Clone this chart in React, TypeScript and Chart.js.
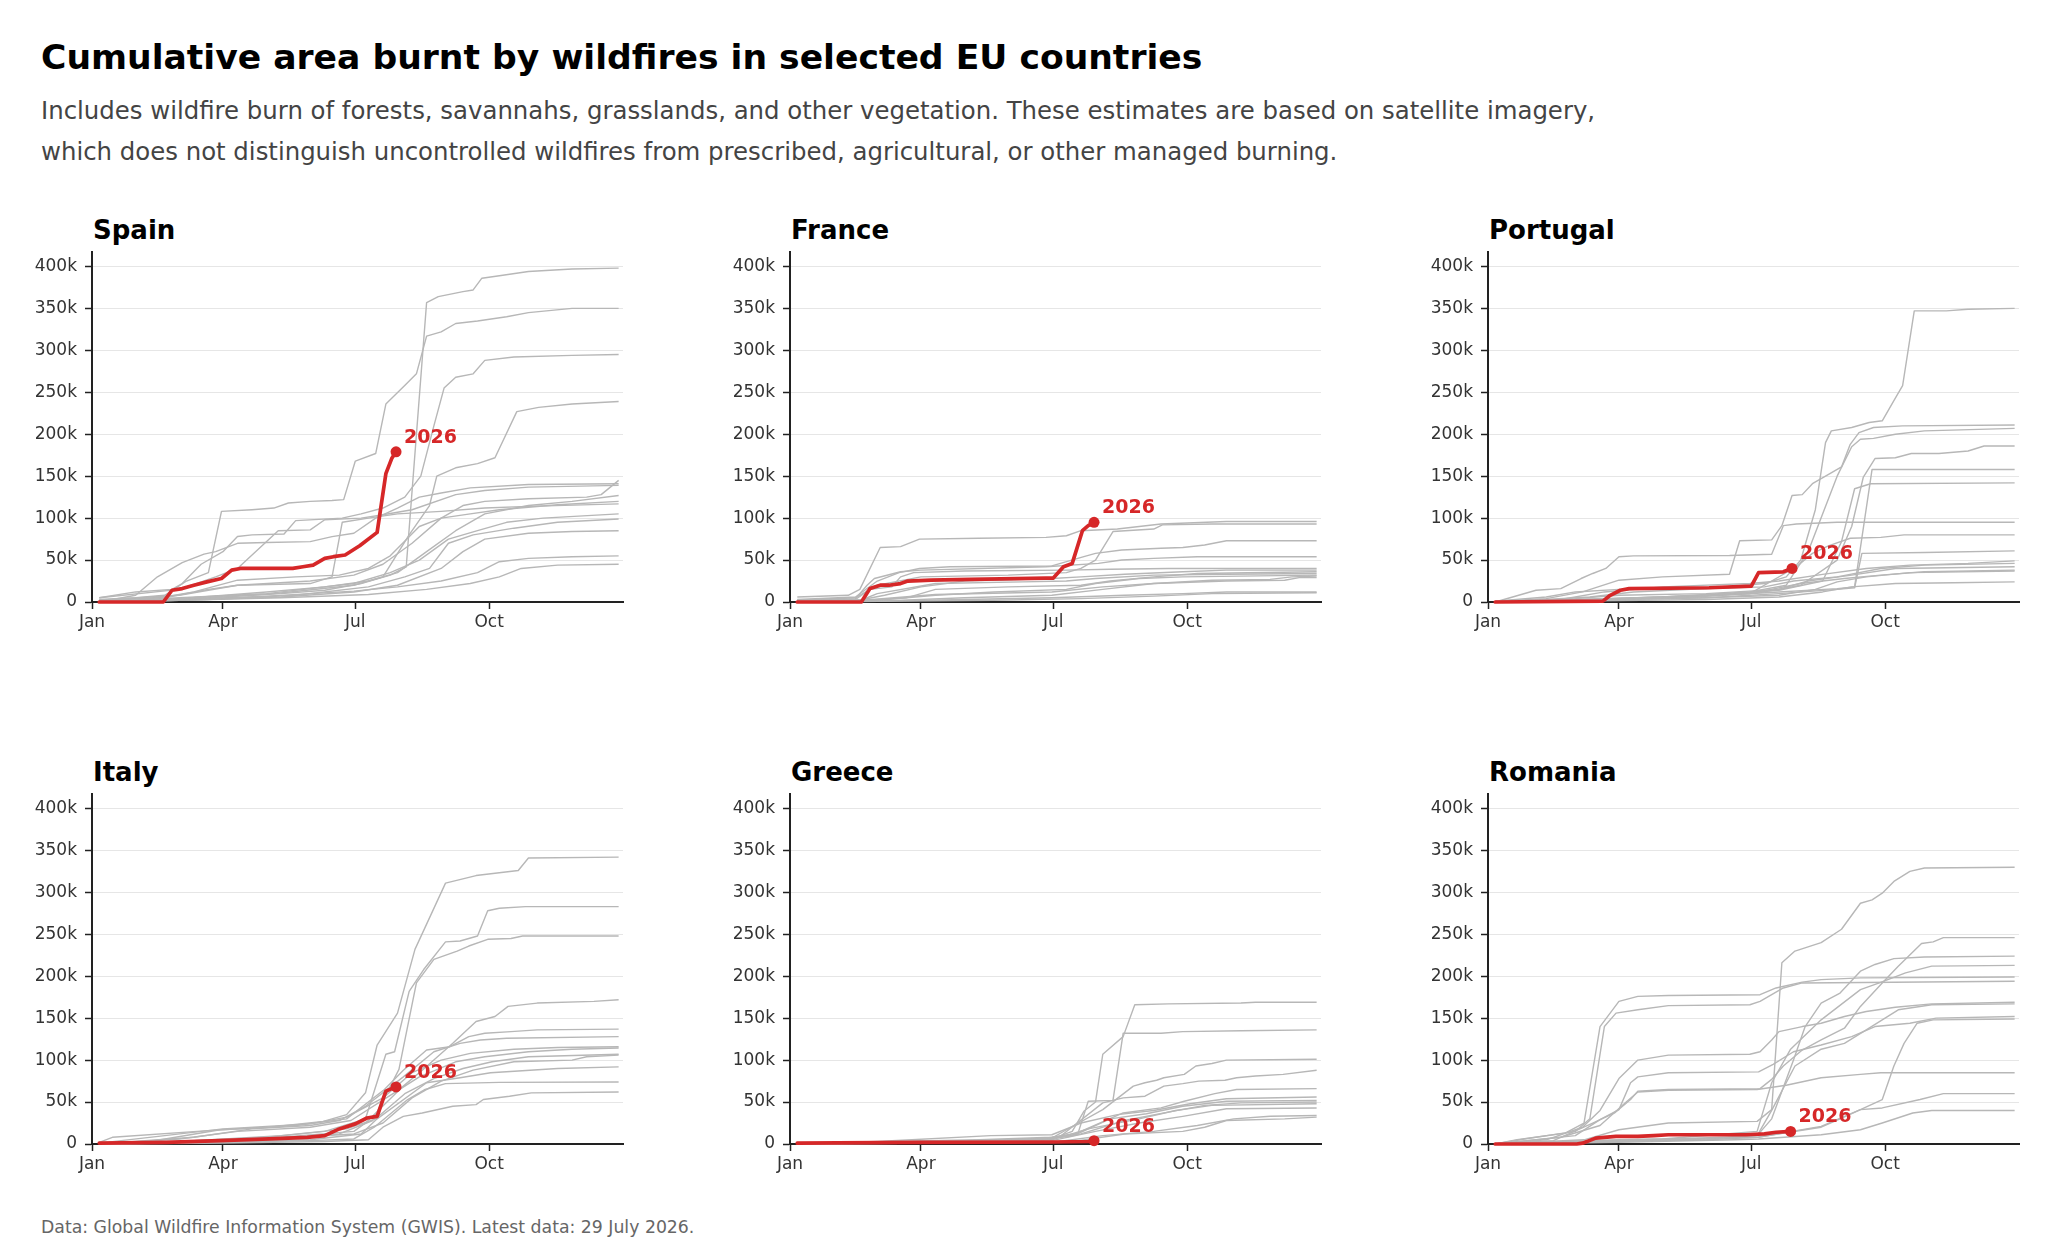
import React, { useEffect, useRef } from "react";
import { Chart, registerables } from "chart.js";

Chart.register(...registerables);

type Series = [number, number][];

// ---------- text ----------
const titleText = "Cumulative area burnt by wildfires in selected EU countries";
const subtitleLines = [
  "Includes wildfire burn of forests, savannahs, grasslands, and other vegetation. These estimates are based on satellite imagery,",
  "which does not distinguish uncontrolled wildfires from prescribed, agricultural, or other managed burning.",
];
const footerText = "Data: Global Wildfire Information System (GWIS). Latest data: 29 July 2026.";
const currentYearLabel = "2026";

// ---------- axes ----------
const monthDays = [0, 90, 181, 273];
const monthLabels = ["Jan", "Apr", "Jul", "Oct"];
const yTickValues = [0, 50, 100, 150, 200, 250, 300, 350, 400]; // thousand hectares

// ---------- data: [day of year, thousand ha] ----------
const spainPast: Series[] = [
  [[5,0],[40,2],[70,5],[100,8],[130,10],[160,14],[185,22],[205,32],[216,42],[230,357],[238,364],[255,370],[262,372],[268,386],[280,389],[300,394],[330,397],[362,398]],
  [[5,3],[30,5],[50,8],[65,25],[80,35],[89,108],[110,110],[125,112],[135,118],[150,120],[165,121],[173,122],[181,168],[195,177],[202,236],[216,260],[223,272],[230,317],[240,322],[250,332],[265,335],[285,340],[300,345],[330,350],[362,350]],
  [[5,5],[30,12],[55,15],[62,22],[75,45],[90,60],[100,78],[110,80],[132,81],[140,97],[172,100],[185,105],[200,112],[215,125],[226,150],[235,210],[242,255],[250,268],[262,272],[270,288],[290,292],[330,294],[362,295]],
  [[5,0],[60,3],[120,9],[180,20],[200,30],[218,80],[232,115],[237,150],[250,160],[265,165],[277,172],[292,227],[307,232],[330,236],[362,239]],
  [[5,2],[50,5],[80,15],[100,20],[150,25],[180,32],[200,45],[220,70],[240,100],[255,115],[270,120],[300,123],[340,125],[350,128],[362,145]],
  [[5,0],[30,8],[45,30],[62,47],[77,57],[85,60],[100,70],[120,71],[150,72],[165,78],[180,82],[195,100],[210,112],[225,125],[240,130],[260,136],[300,140],[362,141]],
  [[5,5],[60,15],[85,30],[100,40],[128,85],[150,86],[160,98],[185,100],[200,104],[220,110],[250,128],[270,133],[300,137],[362,139]],
  [[5,0],[60,4],[120,12],[160,18],[190,25],[210,35],[230,60],[250,85],[270,105],[300,115],[330,120],[362,127]],
  [[5,2],[60,8],[100,20],[150,22],[165,30],[172,95],[190,100],[210,105],[240,108],[270,112],[300,114],[362,117]],
  [[5,0],[60,5],[120,10],[180,22],[205,35],[225,50],[245,75],[265,85],[285,95],[310,100],[362,105]],
  [[5,0],[80,3],[140,8],[190,18],[215,30],[232,40],[245,70],[262,80],[290,88],[320,95],[362,99]],
  [[5,0],[60,2],[130,6],[180,12],[210,20],[240,40],[255,60],[270,75],[300,82],[330,84],[362,85]],
  [[5,0],[60,3],[120,7],[180,13],[210,18],[240,25],[265,35],[280,48],[300,52],[330,54],[362,55]],
  [[5,0],[60,2],[130,5],[190,9],[230,15],[260,22],[280,30],[295,40],[320,44],[362,45]],
  [[5,1],[50,6],[70,12],[100,26],[140,30],[170,32],[190,40],[205,55],[225,90],[240,100],[260,105],[280,110],[320,116],[362,120]],
];
const spain2026: Series = [[5,0],[49,0],[55,14],[62,16],[70,20],[79,24],[89,28],[96,38],[102,40],[138,40],[145,42],[152,44],[160,52],[166,54],[174,56],[184,67],[196,83],[202,153],[206,171],[209,179]];

const francePast: Series[] = [
  [[5,6],[40,8],[48,15],[62,65],[76,66],[89,75],[130,76],[176,77],[190,79],[200,85],[225,87],[255,93],[300,96],[362,96]],
  [[5,2],[45,5],[60,20],[90,30],[150,32],[190,35],[200,40],[210,50],[222,84],[250,87],[256,92],[290,93],[362,93]],
  [[5,3],[45,6],[60,25],[75,35],[89,40],[110,42],[180,43],[202,54],[210,58],[228,62],[255,64],[270,65],[285,68],[300,73],[362,73]],
  [[5,1],[45,4],[53,20],[58,28],[76,36],[90,38],[176,42],[212,46],[228,50],[250,52],[280,54],[362,54]],
  [[5,2],[45,3],[55,15],[70,18],[76,30],[85,35],[120,37],[190,38],[220,39],[260,40],[362,40]],
  [[5,0],[50,3],[65,8],[90,18],[120,25],[180,28],[200,30],[230,33],[270,36],[300,38],[362,38]],
  [[5,0],[55,2],[80,5],[100,15],[150,18],[200,20],[220,25],[250,30],[280,34],[362,36]],
  [[5,1],[50,3],[60,10],[100,22],[160,24],[190,25],[210,28],[250,32],[300,33],[362,34]],
  [[5,0],[60,2],[100,8],[140,12],[190,15],[210,22],[240,28],[270,30],[362,32]],
  [[5,0],[60,1],[120,5],[180,8],[215,15],[250,22],[290,26],[330,27],[345,30],[362,31]],
  [[5,1],[50,2],[100,9],[180,12],[215,18],[250,22],[300,25],[340,26],[350,29],[362,29]],
  [[5,0],[60,1],[120,3],[180,5],[230,8],[270,10],[300,12],[362,12]],
  [[5,0],[80,1],[140,2],[200,4],[250,7],[290,10],[362,11]],
];
const france2026: Series = [[5,0],[49,0],[55,16],[62,20],[68,20],[76,22],[81,25],[97,26],[124,27],[176,28.5],[181,28.5],[188,42],[194,46],[201,85],[205,91],[209,95]];

const portugalPast: Series[] = [
  [[5,0],[40,3],[70,6],[100,12],[150,16],[190,22],[205,30],[215,50],[225,110],[232,190],[236,204],[250,208],[262,214],[271,216],[279,240],[285,258],[293,347],[315,347],[330,349],[362,350]],
  [[5,1],[40,4],[65,12],[90,26],[120,30],[166,33],[173,73],[195,74],[202,91],[209,127],[216,128],[223,141],[235,153],[243,161],[249,188],[255,202],[265,208],[285,210],[362,211]],
  [[5,0],[60,3],[120,6],[180,12],[205,20],[220,60],[240,150],[250,185],[256,194],[265,195],[280,200],[300,204],[362,207]],
  [[5,0],[60,2],[130,5],[190,12],[215,20],[240,50],[250,90],[258,149],[266,171],[280,172],[291,177],[310,177],[330,180],[341,186],[362,186]],
  [[5,0],[60,2],[140,6],[200,12],[240,16],[252,18],[264,158],[362,158]],
  [[5,0],[70,3],[150,8],[200,14],[230,25],[243,72],[252,135],[263,141],[362,142]],
  [[5,0],[33,14],[50,16],[64,28],[72,34],[81,40],[90,54],[100,55],[166,55.5],[195,57],[203,91],[212,93],[240,95],[362,95]],
  [[5,0],[60,2],[120,5],[180,10],[212,42],[223,58],[234,67],[249,76],[270,77],[286,80],[362,80]],
  [[5,0],[60,2],[150,5],[200,10],[240,15],[252,17],[257,58],[300,59],[362,61]],
  [[5,0],[50,3],[80,12],[120,18],[180,22],[200,25],[230,33],[260,40],[290,44],[330,46],[362,49]],
  [[5,1],[40,6],[60,12],[90,15],[150,16],[190,18],[210,25],[240,30],[270,40],[300,44],[362,46]],
  [[5,0],[60,4],[90,8],[150,10],[200,15],[220,25],[250,32],[280,40],[362,42]],
  [[5,0],[70,3],[120,6],[180,10],[215,22],[245,28],[270,32],[300,36],[362,38]],
  [[5,0],[60,2],[150,5],[200,8],[225,15],[240,24],[260,30],[290,35],[362,37]],
  [[5,0],[60,1],[150,3],[200,6],[230,12],[250,18],[280,22],[320,23],[362,24]],
];
const portugal2026: Series = [[5,0],[79,1],[84,8],[91,14],[97,16],[152,17],[181,19],[186,35],[203,36],[209,40]];

const italyPast: Series[] = [
  [[5,0],[40,3],[88,17],[122,20],[159,27],[175,35],[188,61],[196,118],[210,156],[222,232],[243,311],[264,320],[293,326],[300,341],[362,342]],
  [[5,0],[60,3],[120,8],[160,15],[188,30],[202,107],[208,110],[218,182],[228,208],[243,241],[253,242],[265,248],[272,278],[280,281],[298,283],[362,283]],
  [[5,0],[60,2],[120,6],[170,12],[193,28],[211,89],[223,192],[235,220],[251,230],[259,236],[272,244],[288,245],[296,248],[362,248]],
  [[5,0],[70,3],[130,8],[180,15],[188,25],[214,69],[227,88],[248,120],[264,146],[277,152],[286,164],[306,168],[345,170],[362,172]],
  [[5,2],[14,8],[80,16],[140,22],[175,30],[201,65],[214,88],[230,112],[246,116],[259,128],[270,132],[288,134],[306,136],[362,137]],
  [[5,0],[70,8],[110,18],[150,22],[170,28],[188,45],[214,80],[235,110],[253,120],[267,124],[285,126],[362,128]],
  [[5,1],[50,10],[90,18],[150,24],[175,32],[200,55],[220,85],[240,100],[260,108],[290,113],[320,115],[362,116]],
  [[5,0],[60,6],[100,15],[150,20],[178,28],[205,58],[225,80],[250,98],[270,104],[300,110],[330,113],[362,114.5]],
  [[5,0],[70,4],[130,10],[175,18],[195,30],[215,60],[235,78],[255,90],[275,98],[300,104],[362,107]],
  [[5,0],[80,3],[140,8],[180,12],[200,25],[220,55],[240,75],[262,88],[290,98],[330,100],[340,104],[362,106]],
  [[5,0],[80,2],[150,5],[185,12],[196,30],[230,73],[253,79],[274,85],[293,87],[320,90],[362,92]],
  [[5,0],[90,2],[150,4],[180,6],[194,20],[217,53],[229,65],[243,72],[280,73.5],[362,74]],
  [[5,0],[90,1],[160,3],[190,5],[200,20],[214,33],[227,37],[248,45],[264,47],[269,53],[287,57],[302,61],[362,62]],
];
const italy2026: Series = [[5,1],[51,2],[88,4],[122,6],[148,8],[160,10],[170,18],[181,24],[189,31],[196,33],[202,63],[206,66],[209,68]];

const greecePast: Series[] = [
  [[5,0],[60,2],[120,4],[180,6],[194,15],[202,39],[210,50],[215,107],[229,128],[237,166],[260,167],[310,168],[320,169],[362,169]],
  [[5,0],[70,3],[130,5],[180,8],[198,13],[205,51],[222,52],[229,132],[255,132],[270,134],[310,135],[362,136]],
  [[5,0],[60,2],[130,4],[180,7],[190,17],[215,41],[236,69],[244,73],[252,76],[257,79],[271,83],[279,93],[290,96],[300,100],[362,101]],
  [[5,0],[80,2],[150,4],[185,8],[215,49],[229,55],[244,57],[257,69],[270,72],[281,75],[299,76],[307,79],[320,81],[339,83],[362,88]],
  [[5,0],[80,2],[150,4],[192,9],[229,37],[255,43],[271,51],[292,60],[307,65],[362,66]],
  [[5,0],[60,3],[138,10],[180,11],[200,25],[225,35],[250,40],[275,48],[300,54],[362,56]],
  [[5,0],[90,3],[160,5],[195,10],[220,30],[245,36],[270,45],[300,51],[362,52]],
  [[5,0],[90,2],[170,4],[200,12],[230,28],[260,38],[285,46],[310,49],[362,50]],
  [[5,0],[100,2],[180,5],[205,18],[240,30],[265,40],[290,46],[362,48]],
  [[5,0],[100,2],[180,4],[210,15],[240,25],[270,33],[300,42],[362,43]],
  [[5,0],[100,1],[185,3],[215,10],[250,15],[280,22],[305,30],[330,33],[362,34]],
  [[5,0],[100,1],[190,2],[230,12],[270,15],[285,20],[300,28],[340,30],[362,32]],
];
const greece2026: Series = [[5,1],[89,2],[181,2.4],[205,3],[209,4]];

const romaniaPast: Series[] = [
  [[5,0],[66,5],[90,17],[124,25],[185,27],[195,41],[202,216],[211,230],[229,240],[243,256],[256,287],[264,291],[271,299],[279,313],[290,325],[300,329],[362,330]],
  [[5,0],[45,4],[72,25],[87,37],[98,53],[103,63],[124,65],[187,66],[195,77],[203,93],[216,112],[229,124],[245,138],[256,164],[271,192],[282,212],[298,239],[306,241],[313,246],[362,246]],
  [[5,0],[60,2],[120,5],[185,10],[195,30],[210,100],[218,140],[229,168],[242,180],[256,206],[266,214],[279,221],[300,223],[362,224]],
  [[5,0],[60,3],[120,6],[185,15],[195,73],[208,113],[229,148],[256,184],[269,192],[287,204],[305,212],[362,213]],
  [[5,0],[20,5],[53,13],[66,25],[77,140],[90,170],[103,176],[124,177],[187,178],[198,186],[216,193],[229,196],[256,198],[362,199]],
  [[5,0],[25,6],[60,15],[70,30],[80,140],[88,156],[103,160],[124,165],[180,166],[187,170],[195,178],[203,186],[216,192],[362,194]],
  [[5,0],[40,5],[65,20],[77,40],[90,78],[103,100],[124,106],[180,107],[187,110],[195,124],[200,134],[216,140],[229,144],[245,152],[260,158],[280,163],[305,167],[362,169]],
  [[5,0],[80,3],[150,6],[185,10],[195,40],[211,93],[229,113],[245,120],[260,136],[282,160],[305,166],[362,167]],
  [[5,0],[60,10],[77,29],[90,41],[98,73],[103,80],[124,85],[186,86],[196,95],[210,110],[229,118],[250,128],[266,140],[290,144],[308,150],[362,152]],
  [[5,0],[90,5],[186,8],[229,21],[256,41],[271,53],[279,93],[286,120],[295,144],[306,148],[362,149]],
  [[5,0],[50,8],[77,22],[95,50],[103,62],[124,64],[185,65],[205,70],[229,79],[256,83],[270,85],[362,85]],
  [[5,0],[80,3],[150,5],[185,8],[229,20],[242,30],[256,41],[271,43],[297,53],[313,60],[362,60]],
  [[5,0],[90,2],[170,5],[186,6],[229,11],[256,17],[271,25],[292,37],[305,40],[362,40]],
];
const romania2026: Series = [[5,0],[61,0],[65,1],[74,7],[88,9],[103,9],[114,10],[124,11],[177,11],[190,12],[198,14],[208,15]];

const countryNames = ["Spain", "France", "Portugal", "Italy", "Greece", "Romania"];
const pastByCountry = [spainPast, francePast, portugalPast, italyPast, greecePast, romaniaPast];
const currentByCountry = [spain2026, france2026, portugal2026, italy2026, greece2026, romania2026];

// ---------- styling / layout ----------
const FONT = '"DejaVu Sans", "Liberation Sans", sans-serif';
const RED = "#d62728";
const GREY = "#b7b7b7";
const COL_X = [92, 790, 1488]; // plot-area left edge (page px)
const ROW_TOP = [252, 794]; // plot-area top edge (page px)
const AXIS_W = 90;
const PLOT_W = 531;
const PLOT_H = 350;
const PAD_RIGHT = 12;
const XAXIS_H = 40;

function Panel({ idx }: { idx: number }) {
  const ref = useRef<HTMLCanvasElement | null>(null);
  const col = idx % 3;
  const row = Math.floor(idx / 3);
  const W0 = AXIS_W + PLOT_W + PAD_RIGHT;
  const H0 = PLOT_H + XAXIS_H + 30;

  useEffect(() => {
    const canvas = ref.current;
    if (!canvas) return;
    const past = pastByCountry[idx];
    const cur = currentByCountry[idx];
    // Chart.js paints dataset 0 last (on top), so the current year goes first.
    const datasets: any[] = [
      {
        data: cur.map(([x, y]) => ({ x, y })),
        borderColor: RED,
        backgroundColor: RED,
        borderWidth: 3.7,
        tension: 0,
        fill: false,
        clip: false,
        borderJoinStyle: "round",
        borderCapStyle: "round",
        pointRadius: (c: any) => (c.dataIndex === cur.length - 1 ? 5.5 : 0),
        pointBackgroundColor: RED,
        pointBorderWidth: 0,
      },
      ...past.map((s) => ({
        data: s.map(([x, y]) => ({ x, y })),
        borderColor: GREY,
        borderWidth: 1.4,
        pointRadius: 0,
        tension: 0,
        fill: false,
        clip: false,
        borderJoinStyle: "round",
      })),
    ];

    const labelPlugin = {
      id: "lastLabel",
      afterDatasetsDraw(chart: any) {
        const meta = chart.getDatasetMeta(0);
        const pt = meta.data[meta.data.length - 1];
        if (!pt) return;
        const ctx = chart.ctx;
        ctx.save();
        ctx.font = `bold 19px ${FONT}`;
        ctx.fillStyle = RED;
        ctx.textAlign = "left";
        ctx.textBaseline = "alphabetic";
        ctx.fillText(currentYearLabel, pt.x + 8, pt.y - 9);
        ctx.restore();
      },
    };

    const chart = new Chart(canvas, {
      type: "line",
      data: { datasets },
      options: {
        animation: false,
        responsive: false,
        maintainAspectRatio: false,
        events: [],
        layout: { padding: { left: 0, right: PAD_RIGHT, top: 0, bottom: 0 } },
        plugins: { legend: { display: false }, tooltip: { enabled: false }, title: { display: false } },
        scales: {
          x: {
            type: "linear",
            min: 0,
            max: 365,
            afterFit: (s: any) => { s.height = XAXIS_H; },
            afterBuildTicks: (s: any) => { s.ticks = monthDays.map((v) => ({ value: v })); },
            ticks: {
              callback: (v: any) => monthLabels[monthDays.indexOf(Number(v))] ?? "",
              font: { family: FONT, size: 17 },
              color: "#333333",
              padding: 3,
              maxRotation: 0,
              autoSkip: false,
            },
            grid: { drawOnChartArea: false, drawTicks: true, tickLength: 7, tickColor: "#222222", tickWidth: 1.5 },
            border: { display: true, color: "#222222", width: 2 },
          },
          y: {
            type: "linear",
            min: 0,
            max: 417,
            afterFit: (s: any) => { s.width = AXIS_W; },
            afterBuildTicks: (s: any) => { s.ticks = yTickValues.map((v) => ({ value: v })); },
            ticks: {
              callback: (v: any) => (Number(v) === 0 ? "0" : `${v}k`),
              font: { family: FONT, size: 17 },
              color: "#333333",
              padding: 8,
              autoSkip: false,
            },
            grid: { color: "#e6e6e6", lineWidth: 1, drawTicks: true, tickLength: 7, tickColor: "#222222", tickWidth: 1.5 },
            border: { display: true, color: "#222222", width: 2 },
          },
        },
      } as any,
      plugins: [labelPlugin],
    });

    // size the canvas so the plot area is exactly PLOT_W x PLOT_H, then place it
    const ca = chart.chartArea;
    const newW = W0 + (PLOT_W - (ca.right - ca.left));
    const newH = H0 + (PLOT_H - (ca.bottom - ca.top));
    if (Math.abs(newW - W0) > 0.5 || Math.abs(newH - H0) > 0.5) {
      chart.resize(Math.round(newW), Math.round(newH));
    }
    const ca2 = chart.chartArea;
    canvas.style.left = `${COL_X[col] - ca2.left}px`;
    canvas.style.top = `${ROW_TOP[row] - ca2.top}px`;

    return () => chart.destroy();
  }, [idx]);

  return (
    <>
      <div
        style={{
          position: "absolute",
          left: COL_X[col] + 1,
          top: ROW_TOP[row] - 35,
          font: `bold 26px ${FONT}`,
          lineHeight: "26px",
          color: "#000",
          whiteSpace: "nowrap",
        }}
      >
        {countryNames[idx]}
      </div>
      <canvas
        ref={ref}
        width={W0}
        height={H0}
        style={{ position: "absolute", left: COL_X[col] - AXIS_W, top: ROW_TOP[row], width: W0, height: H0 }}
      />
    </>
  );
}

export default function App() {
  return (
    <div
      style={{
        position: "absolute",
        left: 0,
        top: 0,
        width: 2048,
        height: 1258,
        background: "#fff",
        fontFamily: FONT,
        overflow: "hidden",
      }}
    >
      <div style={{ position: "absolute", left: 41, top: 40, font: `bold 34.6px ${FONT}`, lineHeight: "34.6px", color: "#000", whiteSpace: "nowrap" }}>
        {titleText}
      </div>
      {subtitleLines.map((t, i) => (
        <div
          key={i}
          style={{ position: "absolute", left: 41, top: 99 + i * 41, font: `24.4px ${FONT}`, lineHeight: "24.4px", color: "#444444", whiteSpace: "nowrap" }}
        >
          {t}
        </div>
      ))}
      {countryNames.map((_, i) => (
        <Panel key={i} idx={i} />
      ))}
      <div style={{ position: "absolute", left: 41, top: 1219, font: `17.3px ${FONT}`, lineHeight: "17.3px", color: "#666666", whiteSpace: "nowrap" }}>
        {footerText}
      </div>
    </div>
  );
}
